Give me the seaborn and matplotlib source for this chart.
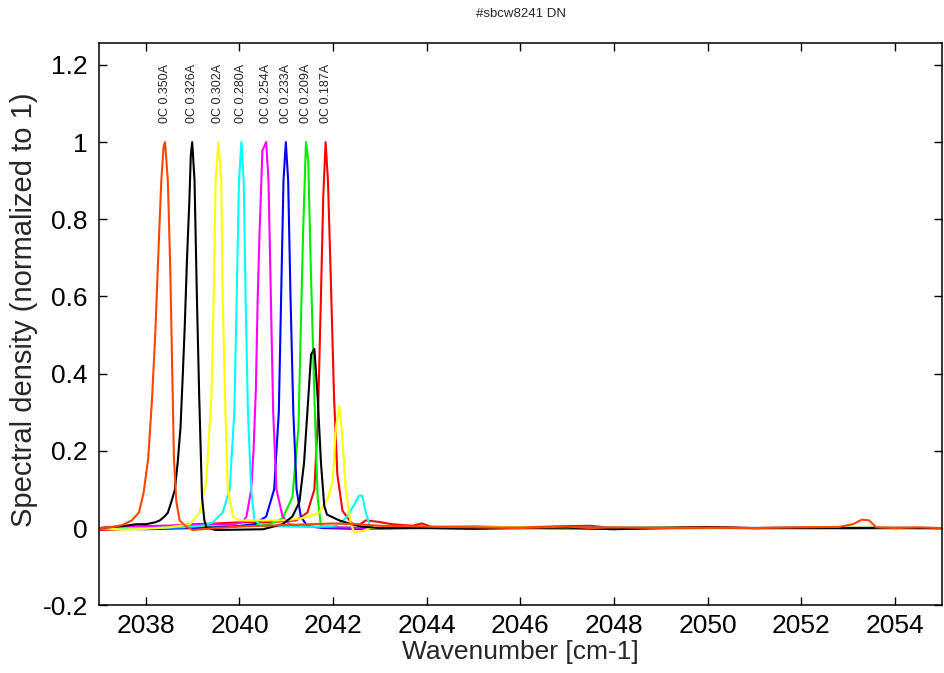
import numpy as np
import pandas as pd
import matplotlib
matplotlib.use("Agg")
import matplotlib.pyplot as plt
import seaborn as sns

# peak labels (currents), left to right
labels = ["0C 0.350A", "0C 0.326A", "0C 0.302A", "0C 0.280A",
          "0C 0.254A", "0C 0.233A", "0C 0.209A", "0C 0.187A"]
label_pos = [2038.41, 2038.99, 2039.55, 2040.03, 2040.56, 2040.99, 2041.42, 2041.84]
line_colors = ["#ff4500", "black", "yellow", "cyan", "magenta", "blue", "#00ee00", "red"]

# spectra
orange_x = [2037.0, 2037.3, 2037.5, 2037.7, 2037.85, 2037.95, 2038.05, 2038.13, 2038.2, 2038.27,
            2038.33, 2038.38, 2038.41, 2038.47, 2038.52, 2038.56, 2038.6, 2038.65, 2038.72, 2038.85,
            2039.0, 2039.5, 2040.0, 2040.5, 2041.0, 2041.5, 2042.0, 2042.5, 2043.0, 2044.0,
            2045.0, 2046.0, 2047.0, 2047.5, 2048.0, 2049.0, 2050.0, 2051.0, 2052.0, 2052.8,
            2053.1, 2053.3, 2053.45, 2053.6, 2054.0, 2054.5, 2055.0]
orange_y = [0.0, 0.003, 0.008, 0.02, 0.04, 0.09, 0.18, 0.33, 0.5, 0.72,
            0.9, 0.99, 1.0, 0.9, 0.68, 0.43, 0.18, 0.07, 0.02, 0.005,
            -0.005, 0.0, 0.004, 0.006, 0.008, 0.01, 0.012, 0.01, 0.006, 0.004,
            0.002, 0.0, 0.004, 0.0, 0.002, 0.0, 0.001, 0.0, 0.002, 0.003,
            0.01, 0.022, 0.02, 0.002, 0.0, 0.002, 0.0]

black_x = [2037.0, 2037.5, 2037.8, 2038.0, 2038.2, 2038.3, 2038.4, 2038.47, 2038.55, 2038.62,
           2038.68, 2038.74, 2038.79, 2038.83, 2038.88, 2038.93, 2038.96, 2038.99, 2039.04, 2039.09,
           2039.14, 2039.2, 2039.25, 2039.3, 2039.5, 2040.0, 2040.5, 2040.92, 2041.13, 2041.28,
           2041.38, 2041.45, 2041.53, 2041.6, 2041.67, 2041.74, 2041.81, 2041.87, 2042.13, 2042.34,
           2042.6, 2043.0, 2044.0, 2045.0, 2046.0, 2047.0, 2048.0, 2049.0, 2050.0, 2051.0,
           2052.0, 2053.0, 2054.0, 2055.0]
black_y = [0.0, 0.005, 0.01, 0.01, 0.015, 0.02, 0.03, 0.04, 0.07, 0.1,
           0.17, 0.26, 0.4, 0.52, 0.7, 0.85, 0.965, 1.0, 0.9, 0.6,
           0.34, 0.08, 0.02, 0.0, -0.005, -0.004, -0.003, 0.01, 0.03, 0.067,
           0.17, 0.3, 0.45, 0.464, 0.34, 0.17, 0.058, 0.035, 0.02, 0.012,
           0.004, 0.0, 0.0, -0.002, 0.0, 0.001, -0.003, 0.0, 0.002, 0.0,
           0.0, 0.0, 0.0, 0.0]

yellow_x = [2037.0, 2037.5, 2038.0, 2038.5, 2038.94, 2039.15, 2039.29, 2039.4, 2039.45, 2039.49,
            2039.55, 2039.61, 2039.64, 2039.7, 2039.75, 2039.86, 2040.0, 2040.5, 2041.0, 2041.3,
            2041.49, 2041.7, 2041.88, 2041.99, 2042.06, 2042.13, 2042.18, 2042.27, 2042.38, 2042.45,
            2042.62, 2042.8, 2043.2, 2044.0, 2045.5, 2047.0, 2049.0, 2051.0, 2053.0, 2055.0]
yellow_y = [0.0, -0.004, -0.002, 0.002, 0.01, 0.04, 0.12, 0.34, 0.6, 0.9,
            1.0, 0.9, 0.6, 0.3, 0.1, 0.03, 0.02, 0.02, 0.02, 0.025,
            0.03, 0.04, 0.075, 0.12, 0.26, 0.317, 0.26, 0.1, 0.01, -0.01,
            -0.008, 0.0, 0.002, 0.0, 0.002, 0.0, 0.001, 0.0, 0.001, 0.0]

cyan_x = [2037.0, 2038.0, 2038.8, 2039.2, 2039.43, 2039.64, 2039.79, 2039.89, 2039.94, 2039.99,
          2040.04, 2040.09, 2040.13, 2040.18, 2040.25, 2040.32, 2040.5, 2041.0, 2041.5, 2042.0,
          2042.13, 2042.3, 2042.45, 2042.55, 2042.62, 2042.7, 2042.8, 2043.0, 2044.5, 2046.0,
          2048.0, 2050.0, 2052.0, 2055.0]
cyan_y = [0.0, 0.0, 0.002, 0.006, 0.015, 0.04, 0.1, 0.3, 0.6, 0.9,
          1.0, 0.9, 0.6, 0.3, 0.1, 0.02, 0.006, 0.004, 0.003, 0.005,
          0.01, 0.03, 0.06, 0.084, 0.084, 0.04, 0.0, 0.0, 0.001, 0.0,
          0.001, 0.0, 0.001, 0.0]

magenta_x = [2037.0, 2037.6, 2038.3, 2039.0, 2039.5, 2039.8, 2040.07, 2040.15, 2040.25, 2040.3,
             2040.35, 2040.39, 2040.43, 2040.49, 2040.57, 2040.62, 2040.67, 2040.72, 2040.79, 2040.92,
             2041.06, 2041.4, 2042.0, 2043.0, 2045.0, 2047.5, 2050.0, 2052.5, 2055.0]
magenta_y = [0.0, 0.004, 0.006, 0.008, 0.01, 0.008, 0.015, 0.03, 0.1, 0.2,
             0.36, 0.6, 0.77, 0.978, 1.0, 0.9, 0.6, 0.3, 0.1, 0.03,
             0.01, 0.004, 0.002, 0.0, 0.001, -0.002, 0.0, 0.001, 0.0]

blue_x = [2037.0, 2038.0, 2039.0, 2039.8, 2040.32, 2040.57, 2040.74, 2040.84, 2040.89, 2040.94,
          2040.99, 2041.04, 2041.09, 2041.15, 2041.22, 2041.31, 2041.45, 2041.8, 2042.5, 2043.5,
          2045.0, 2047.0, 2049.0, 2051.0, 2053.0, 2055.0]
blue_y = [0.0, -0.003, 0.0, 0.003, 0.01, 0.03, 0.1, 0.3, 0.6, 0.9,
          1.0, 0.9, 0.6, 0.3, 0.1, 0.03, 0.005, 0.0, -0.002, 0.0,
          0.001, 0.0, 0.001, 0.0, 0.0, 0.0]

green_x = [2037.0, 2038.0, 2039.0, 2040.0, 2040.64, 2040.92, 2041.13, 2041.26, 2041.31, 2041.36,
           2041.42, 2041.47, 2041.52, 2041.6, 2041.67, 2041.74, 2042.0, 2043.0, 2045.0, 2047.0,
           2049.0, 2051.0, 2053.0, 2055.0]
green_y = [0.0, 0.002, 0.003, 0.005, 0.01, 0.025, 0.08, 0.26, 0.52, 0.77,
           1.0, 0.95, 0.69, 0.34, 0.08, 0.005, 0.002, 0.0, 0.001, 0.0,
           0.001, 0.0, 0.001, 0.0]

red_x = [2037.0, 2037.5, 2038.0, 2038.5, 2039.0, 2039.5, 2040.0, 2040.5, 2041.0, 2041.21,
         2041.45, 2041.6, 2041.68, 2041.74, 2041.79, 2041.84, 2041.89, 2041.95, 2042.02, 2042.09,
         2042.2, 2042.3, 2042.42, 2042.55, 2042.7, 2042.98, 2043.26, 2043.69, 2043.9, 2044.1,
         2045.0, 2046.0, 2047.0, 2047.5, 2048.0, 2049.0, 2050.0, 2051.0, 2052.0, 2053.0,
         2054.0, 2055.0]
red_y = [-0.005, -0.003, 0.0, 0.005, 0.01, 0.012, 0.015, 0.015, 0.018, 0.02,
         0.04, 0.1, 0.3, 0.6, 0.86, 1.0, 0.9, 0.65, 0.34, 0.14,
         0.045, 0.028, 0.01, 0.008, 0.02, 0.016, 0.01, 0.006, 0.012, 0.003,
         0.004, 0.002, 0.005, 0.006, 0.0, 0.002, 0.003, 0.0, 0.002, 0.0,
         0.001, 0.0]

series_x = [orange_x, black_x, yellow_x, cyan_x, magenta_x, blue_x, green_x, red_x]
series_y = [orange_y, black_y, yellow_y, cyan_y, magenta_y, blue_y, green_y, red_y]

# long table for seaborn
frames = []
for lab, xs, ys in zip(labels, series_x, series_y):
    frames.append(pd.DataFrame({"wn": xs, "dens": ys, "run": lab}))
df = pd.concat(frames, ignore_index=True)

sns.set_style("ticks")
plt.rcParams["font.family"] = ["Liberation Sans", "DejaVu Sans"]

fig = plt.figure(figsize=(9.45, 6.73), dpi=100)
ax = fig.add_axes([0.1048, 0.1006, 0.8917, 0.8351])

# draw last label first so orange ends up on top
order = labels[::-1]
pal = dict(zip(labels, line_colors))
sns.lineplot(data=df, x="wn", y="dens", hue="run", hue_order=order, palette=pal,
             estimator=None, linewidth=1.5, legend=False, ax=ax)

for lab, xp in zip(labels, label_pos):
    ax.text(xp, 1.05, lab, rotation=90, ha="center", va="bottom", fontsize=9)

ax.set_xlim(2037, 2055)
ax.set_ylim(-0.2, 1.256)
ax.set_xticks(np.arange(2038, 2055, 2))
ax.set_yticks([-0.2, 0, 0.2, 0.4, 0.6, 0.8, 1.0, 1.2])
ax.set_yticklabels(["-0.2", "0", "0.2", "0.4", "0.6", "0.8", "1", "1.2"])
ax.tick_params(direction="in", length=6, width=1, top=True, right=True, labelsize=19, colors="black")
ax.tick_params(axis="x", pad=6)
ax.tick_params(axis="y", pad=8)
for s in ax.spines.values():
    s.set_linewidth(1.1)
    s.set_color("black")

ax.set_xlabel("Wavenumber [cm-1]", fontsize=19, labelpad=2)
ax.set_ylabel("Spectral density (normalized to 1)", fontsize=21)
ax.yaxis.set_label_coords(-0.073, 0.525)
fig.text(0.551, 0.979, "#sbcw8241 DN", ha="center", va="center", fontsize=9.5)

fig.savefig("out.png", dpi=100)
